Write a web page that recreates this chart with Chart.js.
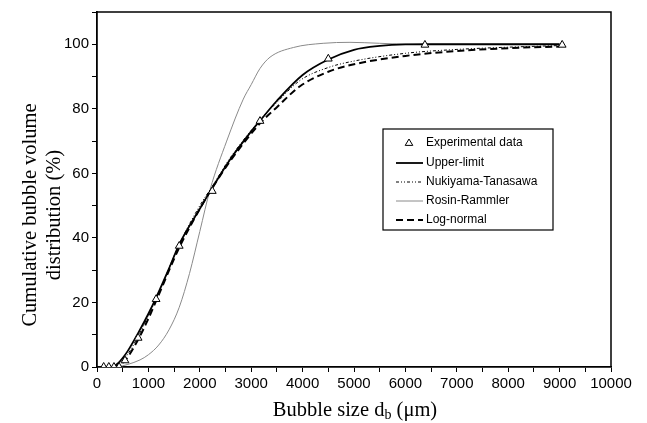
<!DOCTYPE html>
<html>
<head>
<meta charset="utf-8">
<script src="https://cdn.jsdelivr.net/npm/chart.js@4"></script>
<style>
html,body{margin:0;padding:0;background:#fff;}
#wrap{width:647px;height:423px;position:relative;}
</style>
</head>
<body>
<div id="wrap"><canvas id="c" width="647" height="423"></canvas></div>
<script>
// Experimental data (bubble size µm, cumulative %)
const expX = [130, 230, 330, 430, 545, 800, 1150, 1600, 2243, 3171, 4500, 6380, 9050];
const expY = [0, 0, 0, 0, 2, 9, 21, 37.5, 54.5, 76.2, 95.5, 99.8, 99.8];

// Upper-limit
const ulX = [300, 400, 500, 600, 800, 1000, 1150, 1400, 1600, 2000, 2243, 2600, 3000, 3171, 3500, 4000, 4500, 5000, 5500, 6000, 6500, 7500, 9000];
const ulY = [0, 1, 2.8, 5, 10.5, 16.5, 21.5, 30.5, 38, 49, 55.5, 64.5, 73, 76.3, 82.5, 90.5, 95.3, 98.3, 99.5, 99.95, 100, 100, 100];

// Nukiyama-Tanasawa
const ntX = [300, 400, 545, 800, 1000, 1150, 1600, 2000, 2243, 2600, 3171, 3500, 3950, 4500, 5000, 6000, 7000, 8000, 9000];
const ntY = [0, 1, 2.8, 9.5, 16, 21, 38, 50, 56, 65, 76.5, 82, 88.8, 92.8, 94.8, 97.2, 98.4, 99.1, 99.6];

// Rosin-Rammler
const rrX = [400, 600, 837, 1000, 1200, 1400, 1600, 1800, 2000, 2200, 2523, 2846, 3000, 3171, 3366, 3820, 4400, 4922, 5500, 6148, 7000, 9000];
const rrY = [0, 0.8, 2.2, 3.8, 6.8, 11.5, 18.5, 29, 42, 55, 70, 83, 87.5, 92.5, 96, 99, 100.3, 100.6, 100.3, 100, 100, 100];

// Log-normal
const lnX = [300, 400, 545, 800, 1000, 1150, 1600, 2000, 2243, 2600, 3171, 3500, 3950, 4500, 5000, 6000, 7000, 8000, 9000];
const lnY = [0, 0.5, 2, 8.5, 15, 20.5, 37, 49, 55.5, 64, 75.5, 80.5, 87, 91.5, 93.8, 96.4, 97.9, 98.8, 99.3];

const xTicks = [0, 1000, 2000, 3000, 4000, 5000, 6000, 7000, 8000, 9000, 10000];
const yTicks = [0, 20, 40, 60, 80, 100];

const legendLabels = ['Experimental data', 'Upper-limit', 'Nukiyama-Tanasawa', 'Rosin-Rammler', 'Log-normal'];

function pts(xs, ys){ return xs.map((x,i)=>({x:x, y:ys[i]})); }

const datasets = [
  {label: legendLabels[0], data: pts(expX, expY), showLine:false, pointStyle:'triangle', pointRadius:4.5,
   pointBackgroundColor:'#fff', pointBorderColor:'#000', pointBorderWidth:1, order:0},
  {label: legendLabels[1], data: pts(ulX, ulY), showLine:true, borderColor:'#000', borderWidth:1.8, pointRadius:0, cubicInterpolationMode:'monotone', order:2},
  {label: legendLabels[2], data: pts(ntX, ntY), showLine:true, borderColor:'#000', borderWidth:1, borderDash:[3,2,1,2,1,2], pointRadius:0, cubicInterpolationMode:'monotone', order:3},
  {label: legendLabels[3], data: pts(rrX, rrY), showLine:true, borderColor:'#8a8a8a', borderWidth:1, pointRadius:0, cubicInterpolationMode:'monotone', order:4},
  {label: legendLabels[4], data: pts(lnX, lnY), showLine:true, borderColor:'#000', borderWidth:2, borderDash:[7,4], pointRadius:0, cubicInterpolationMode:'monotone', order:1}
];

const framePlugin = {
  id:'frame',
  afterDraw(chart){
    const ctx = chart.ctx, a = chart.chartArea;
    ctx.save();
    ctx.strokeStyle = '#000';
    ctx.lineWidth = 1.5;
    ctx.beginPath();
    ctx.moveTo(a.left, a.top); ctx.lineTo(a.right, a.top); ctx.lineTo(a.right, a.bottom);
    ctx.stroke();

    // Legend box
    const bx = 383, by = 129, bw = 170, bh = 101;
    ctx.lineWidth = 1.2;
    ctx.fillStyle = '#fff';
    ctx.fillRect(bx, by, bw, bh);
    ctx.strokeRect(bx, by, bw, bh);
    const rowY = [143, 163, 182, 201, 220];
    ctx.font = '12px "Liberation Sans", Arial, sans-serif';
    ctx.textBaseline = 'middle';
    ctx.textAlign = 'left';
    chart.data.datasets.forEach((ds, i) => {
      const y = rowY[i];
      if (i === 0) {
        ctx.save();
        ctx.lineWidth = 1;
        ctx.strokeStyle = '#000'; ctx.fillStyle = '#fff';
        const cx = 409, r = 4;
        ctx.beginPath();
        ctx.moveTo(cx, y - r); ctx.lineTo(cx + r*0.95, y + r*0.6); ctx.lineTo(cx - r*0.95, y + r*0.6); ctx.closePath();
        ctx.fill(); ctx.stroke();
        ctx.restore();
      } else {
        ctx.save();
        ctx.strokeStyle = ds.borderColor;
        ctx.lineWidth = ds.borderWidth;
        ctx.setLineDash(ds.borderDash || []);
        ctx.beginPath(); ctx.moveTo(396, y); ctx.lineTo(423, y); ctx.stroke();
        ctx.restore();
      }
      ctx.fillStyle = '#000';
      ctx.fillText(ds.label, 426, y);
    });

    // X-axis title with subscript
    ctx.fillStyle = '#000';
    ctx.textBaseline = 'alphabetic';
    const big = '20.5px "Liberation Serif", "Times New Roman", serif';
    const small = '14px "Liberation Serif", "Times New Roman", serif';
    const p1 = 'Bubble size d', p2 = 'b', p3 = ' (\u03bcm)';
    ctx.font = big; const w1 = ctx.measureText(p1).width, w3 = ctx.measureText(p3).width;
    ctx.font = small; const w2 = ctx.measureText(p2).width;
    const total = w1 + w2 + w3;
    let x0 = 355 - total/2;
    const yb = 416;
    ctx.font = big; ctx.fillText(p1, x0, yb);
    ctx.font = small; ctx.fillText(p2, x0 + w1, yb + 3);
    ctx.font = big; ctx.fillText(p3, x0 + w1 + w2, yb);

    // Y-axis title, two lines
    ctx.save();
    ctx.font = big;
    ctx.textAlign = 'center';
    ctx.textBaseline = 'middle';
    ctx.translate(31, 215);
    ctx.rotate(-Math.PI/2);
    ctx.fillText('Cumulative bubble volume', 0, 0);
    ctx.restore();
    ctx.save();
    ctx.font = big;
    ctx.textAlign = 'center';
    ctx.textBaseline = 'middle';
    ctx.translate(55, 215);
    ctx.rotate(-Math.PI/2);
    ctx.fillText('distribution (%)', 0, 0);
    ctx.restore();
    ctx.restore();
  }
};

new Chart(document.getElementById('c'), {
  type:'scatter',
  data:{datasets},
  options:{
    responsive:false,
    animation:false,
    layout:{padding:{left:0, top:10, right:36, bottom:0}},
    plugins:{legend:{display:false}, tooltip:{enabled:false}},
    scales:{
      x:{
        type:'linear', min:0, max:10000,
        afterFit(s){ s.height = 56; },
        grid:{drawOnChartArea:false, drawTicks:true, tickLength:5, color:'#000', lineWidth:1},
        border:{color:'#000', width:1.8},
        ticks:{stepSize:500, color:'#000', padding:3, maxRotation:0, autoSkip:false,
          font:{family:'"Liberation Sans", Arial, sans-serif', size:15},
          callback:(v)=> xTicks.includes(v) ? String(v) : ''}
      },
      y:{
        type:'linear', min:0, max:110,
        afterFit(s){ s.width = 97; },
        grid:{drawOnChartArea:false, drawTicks:true, tickLength:5, color:'#000', lineWidth:1},
        border:{color:'#000', width:1.8},
        ticks:{stepSize:10, color:'#000', padding:3, autoSkip:false,
          font:{family:'"Liberation Sans", Arial, sans-serif', size:15},
          callback:(v)=> yTicks.includes(v) ? String(v) : ''}
      }
    }
  },
  plugins:[framePlugin]
});
</script>
</body>
</html>
